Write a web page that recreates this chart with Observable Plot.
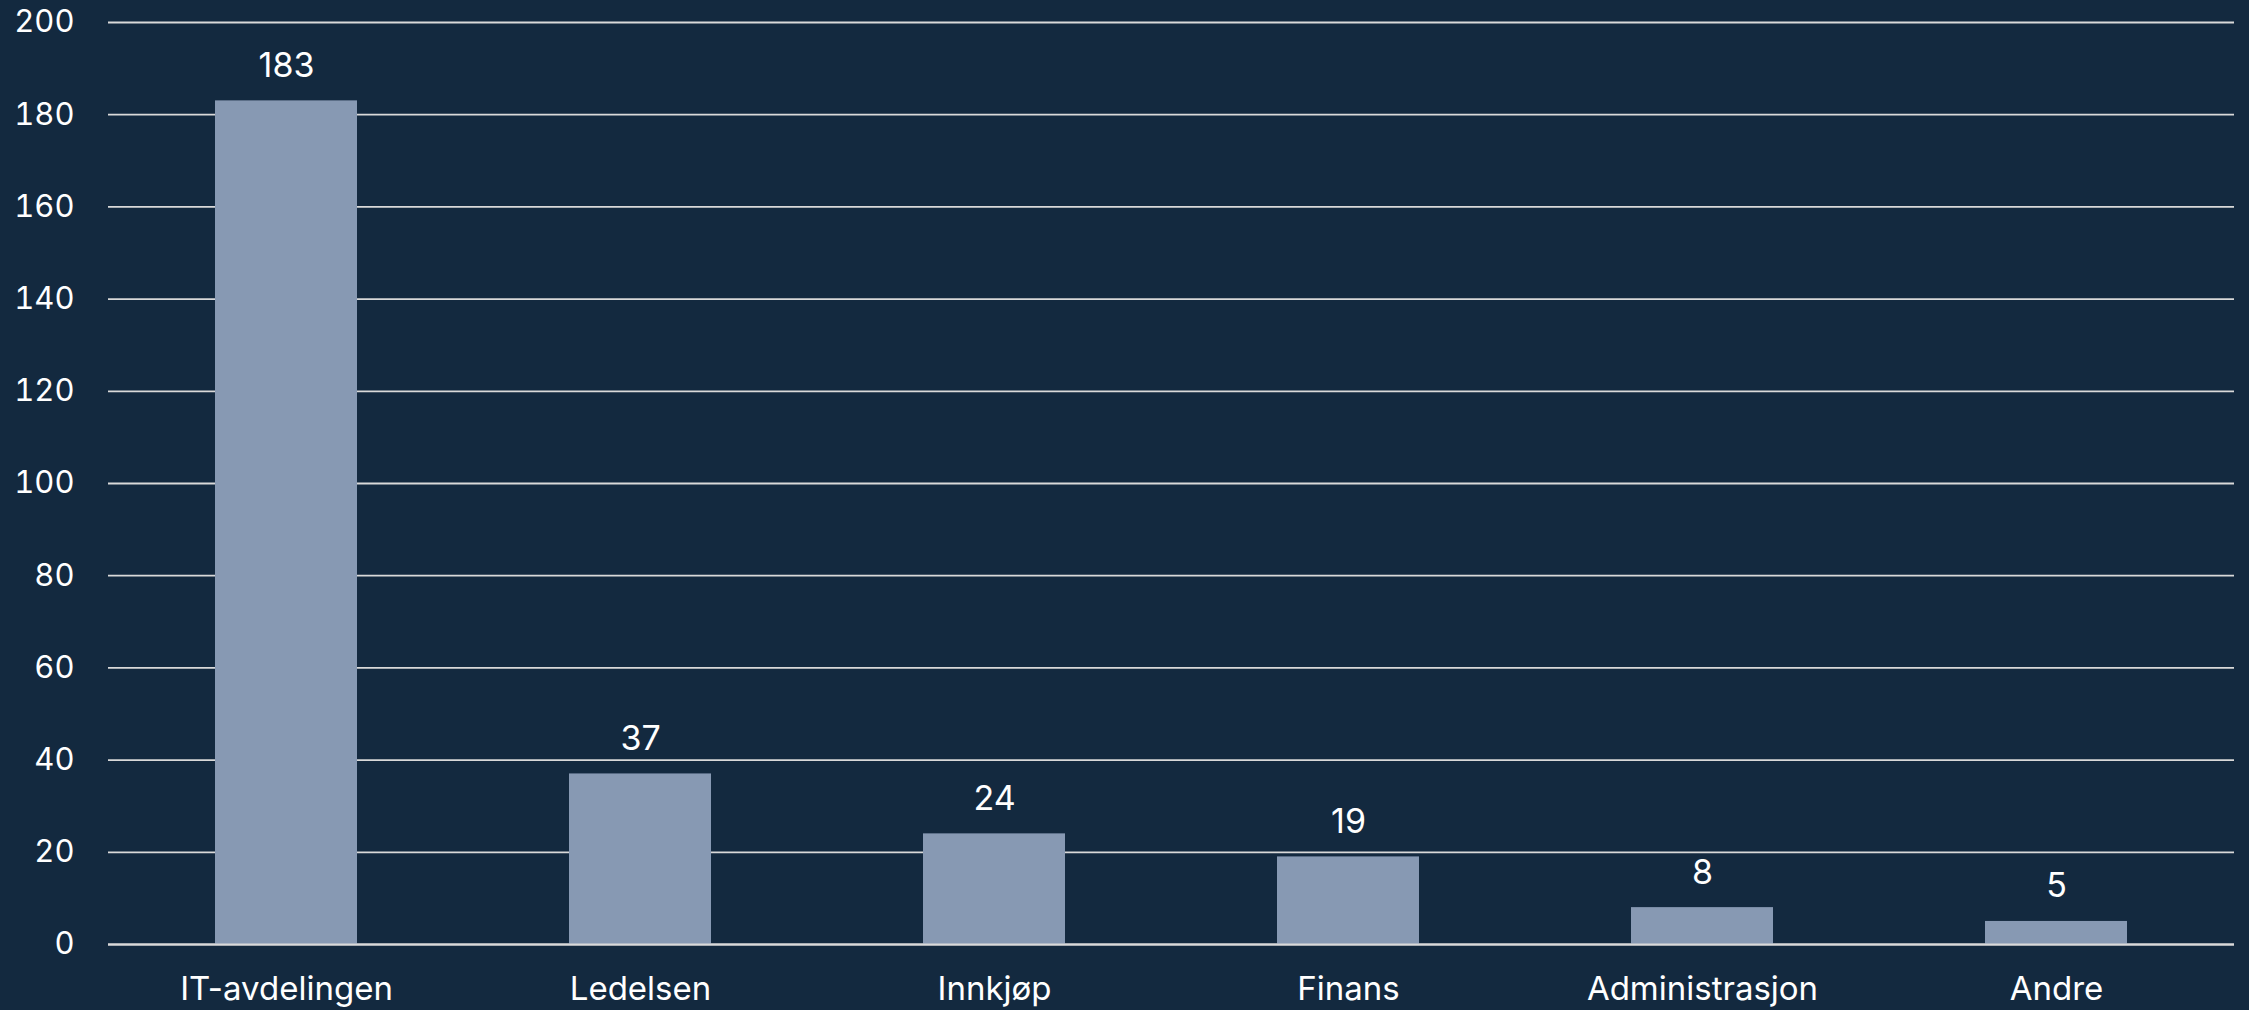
<!DOCTYPE html>
<html>
<head>
<meta charset="utf-8">
<script src="https://cdn.jsdelivr.net/npm/d3@7"></script>
<script src="https://cdn.jsdelivr.net/npm/@observablehq/plot@0.6"></script>
<style>
  html, body { margin: 0; padding: 0; background: #13293f; overflow: hidden; }
  #chart svg { display: block; }
</style>
</head>
<body>
<div id="chart"></div>
<script>
const categories = ["IT-avdelingen", "Ledelsen", "Innkjøp", "Finans", "Administrasjon", "Andre"];
const values = [183, 37, 24, 19, 8, 5];
const yTicks = [0, 20, 40, 60, 80, 100, 120, 140, 160, 180, 200];

const data = categories.map((c, i) => ({category: c, value: values[i]}));

const chart = Plot.plot({
  width: 2249,
  height: 1010,
  marginLeft: 108,
  marginRight: 15,
  marginTop: 22,
  marginBottom: 66,
  style: {background: "#13293f", color: "#ffffff", fontFamily: "Inter, 'Open Sans', sans-serif", fontSize: "31px"},
  x: {domain: categories, paddingInner: 0.6, paddingOuter: 0.3, label: null},
  y: {domain: [0, 200], label: null},
  marks: [
    Plot.ruleY(yTicks, {stroke: "#d9d9d9", strokeWidth: 1.8}),
    Plot.barY(data, {x: "category", y: "value", fill: "#8799b3"}),
    Plot.ruleY([0], {stroke: "#d9d9d9", strokeWidth: 2}),
    Plot.text(data, {x: "category", y: "value", text: d => String(d.value), dy: -35, fill: "#ffffff", fontSize: 34}),
    Plot.axisY({ticks: yTicks, tickSize: 0, tickPadding: 34, fontSize: 31, fill: "#ffffff", label: null}),
    Plot.axisX({tickSize: 0, tickPadding: 32, fontSize: 33, fill: "#ffffff", label: null})
  ]
});
document.getElementById("chart").appendChild(chart);
</script>
</body>
</html>
